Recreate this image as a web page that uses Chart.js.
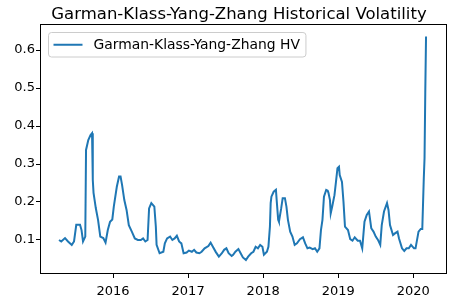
<!DOCTYPE html>
<html>
<head>
<meta charset="utf-8">
<script src="https://cdn.jsdelivr.net/npm/chart.js@4"></script>
<style>
  body { margin: 0; background: #fff; }
  #wrap { width: 456px; height: 299px; }
</style>
</head>
<body>
<div id="wrap"><canvas id="hvChart"></canvas></div>
<script>
// decimal years
const years = [
  2015.28, 2015.31, 2015.36, 2015.40, 2015.45, 2015.48, 2015.51, 2015.56, 2015.58, 2015.60,
  2015.63, 2015.64, 2015.67, 2015.70, 2015.72, 2015.73, 2015.74, 2015.77, 2015.80, 2015.83,
  2015.87, 2015.90, 2015.93, 2015.96, 2015.99, 2016.01, 2016.05, 2016.08, 2016.10, 2016.12,
  2016.15, 2016.18, 2016.21, 2016.25, 2016.29, 2016.33, 2016.37, 2016.40, 2016.43, 2016.46,
  2016.48, 2016.51, 2016.55, 2016.57, 2016.58, 2016.62, 2016.67, 2016.69, 2016.72, 2016.76,
  2016.79, 2016.82, 2016.85, 2016.88, 2016.91, 2016.94, 2016.98, 2017.01, 2017.05, 2017.08,
  2017.11, 2017.15, 2017.18, 2017.22, 2017.27, 2017.30, 2017.33, 2017.37, 2017.41, 2017.45,
  2017.48, 2017.51, 2017.54, 2017.58, 2017.60, 2017.63, 2017.67, 2017.70, 2017.73, 2017.77,
  2017.80, 2017.84, 2017.87, 2017.90, 2017.93, 2017.96, 2017.99, 2018.01, 2018.05, 2018.07,
  2018.09, 2018.10, 2018.11, 2018.14, 2018.17, 2018.18, 2018.20, 2018.21, 2018.24, 2018.26,
  2018.29, 2018.31, 2018.33, 2018.36, 2018.39, 2018.42, 2018.45, 2018.49, 2018.53, 2018.56,
  2018.59, 2018.62, 2018.66, 2018.69, 2018.72, 2018.75, 2018.77, 2018.79, 2018.81, 2018.84,
  2018.86, 2018.87, 2018.89, 2018.90, 2018.92, 2018.95, 2018.97, 2018.99, 2019.01, 2019.02,
  2019.05, 2019.07, 2019.09, 2019.13, 2019.16, 2019.19, 2019.22, 2019.26, 2019.29, 2019.32,
  2019.35, 2019.38, 2019.41, 2019.44, 2019.47, 2019.50, 2019.53, 2019.56, 2019.58, 2019.61,
  2019.65, 2019.67, 2019.69, 2019.73, 2019.76, 2019.79, 2019.81, 2019.85, 2019.88, 2019.91,
  2019.94, 2019.97, 2020.01, 2020.03, 2020.07, 2020.10, 2020.12, 2020.14, 2020.15, 2020.16,
  2020.17
];
const hv = [
  0.100, 0.096, 0.105, 0.096, 0.087, 0.096, 0.140, 0.140, 0.126, 0.096,
  0.109, 0.337, 0.363, 0.376, 0.381, 0.258, 0.224, 0.184, 0.153, 0.109,
  0.105, 0.093, 0.126, 0.148, 0.154, 0.188, 0.240, 0.267, 0.267, 0.245,
  0.205, 0.179, 0.139, 0.122, 0.104, 0.100, 0.100, 0.104, 0.096, 0.100,
  0.183, 0.197, 0.188, 0.135, 0.087, 0.065, 0.069, 0.091, 0.104, 0.109,
  0.100, 0.104, 0.111, 0.096, 0.091, 0.065, 0.067, 0.072, 0.069, 0.074,
  0.067, 0.065, 0.069, 0.078, 0.084, 0.093, 0.082, 0.068, 0.056, 0.065,
  0.074, 0.078, 0.065, 0.058, 0.061, 0.069, 0.076, 0.065, 0.054, 0.047,
  0.056, 0.065, 0.069, 0.082, 0.078, 0.087, 0.082, 0.061, 0.069, 0.082,
  0.135, 0.197, 0.214, 0.227, 0.232, 0.205, 0.153, 0.148, 0.183, 0.210,
  0.210, 0.188, 0.153, 0.122, 0.109, 0.087, 0.091, 0.102, 0.107, 0.091,
  0.078, 0.080, 0.076, 0.078, 0.069, 0.078, 0.126, 0.153, 0.214, 0.232,
  0.230, 0.224, 0.205, 0.170, 0.188, 0.218, 0.253, 0.289, 0.293, 0.271,
  0.253, 0.201, 0.135, 0.126, 0.102, 0.098, 0.107, 0.098, 0.098, 0.078,
  0.148, 0.166, 0.175, 0.131, 0.122, 0.109, 0.100, 0.087, 0.139, 0.175,
  0.197, 0.179, 0.139, 0.113, 0.118, 0.122, 0.104, 0.078, 0.071, 0.078,
  0.078, 0.087, 0.078, 0.078, 0.122, 0.129, 0.129, 0.262, 0.315, 0.490,
  0.636
];
const xTicks = [2016, 2017, 2018, 2019, 2020];
const yTicks = [0.1, 0.2, 0.3, 0.4, 0.5, 0.6];
const chartTitle = 'Garman-Klass-Yang-Zhang Historical Volatility';
const seriesLabel = 'Garman-Klass-Yang-Zhang HV';

const font = 'DejaVu Sans';
const blue = '#1f77b4';

// title, frame and legend drawn the way matplotlib places them
const mplDecor = {
  id: 'mplDecor',
  afterDraw(chart) {
    const ctx = chart.ctx;
    const a = chart.chartArea;
    ctx.save();

    ctx.strokeStyle = '#000';
    ctx.lineWidth = 1;
    ctx.strokeRect(a.left - 0.5, a.top - 0.5, a.right - a.left + 1, a.bottom - a.top + 1);

    ctx.fillStyle = '#000';
    ctx.font = '16.5px "' + font + '"';
    ctx.textAlign = 'center';
    ctx.textBaseline = 'alphabetic';
    ctx.fillText(chartTitle, 239, 18.5);

    ctx.font = '13.9px "' + font + '"';
    const tw = ctx.measureText(seriesLabel).width;
    const lx = a.left + 7.5, ly = a.top + 7.5, lw = 45 + tw + 6, lh = 24.5;
    ctx.beginPath();
    ctx.roundRect(lx, ly, lw, lh, 3);
    ctx.fillStyle = 'rgba(255,255,255,0.8)';
    ctx.fill();
    ctx.strokeStyle = '#cccccc';
    ctx.stroke();

    ctx.beginPath();
    ctx.moveTo(lx + 5, ly + lh / 2);
    ctx.lineTo(lx + 34, ly + lh / 2);
    ctx.strokeStyle = blue;
    ctx.lineWidth = 2;
    ctx.stroke();

    ctx.fillStyle = '#000';
    ctx.textAlign = 'left';
    ctx.textBaseline = 'middle';
    ctx.fillText(seriesLabel, lx + 45, ly + lh / 2 + 0.5);
    ctx.restore();
  }
};

new Chart(document.getElementById('hvChart'), {
  type: 'line',
  data: {
    datasets: [{
      label: seriesLabel,
      data: years.map((y, i) => ({ x: y, y: hv[i] })),
      borderColor: blue,
      borderWidth: 2,
      pointRadius: 0,
      tension: 0,
      fill: false
    }]
  },
  options: {
    responsive: true,
    maintainAspectRatio: false,
    animation: false,
    devicePixelRatio: 1,
    layout: { padding: { top: 25, right: 10, left: 0, bottom: 0 } },
    scales: {
      x: {
        type: 'linear',
        min: 2015.04,
        max: 2020.436,
        afterBuildTicks: s => { s.ticks = xTicks.map(v => ({ value: v })); },
        afterFit: s => { s.height = 26; },
        grid: { display: true, drawOnChartArea: false, drawTicks: true, tickLength: 5, color: '#000' },
        border: { display: false },
        ticks: {
          color: '#000',
          padding: 6,
          maxRotation: 0,
          font: { family: font, size: 13 },
          callback: v => String(v)
        }
      },
      y: {
        min: 0.013,
        max: 0.666,
        afterBuildTicks: s => { s.ticks = yTicks.map(v => ({ value: v })); },
        afterFit: s => { s.width = 41; },
        grid: { display: true, drawOnChartArea: false, drawTicks: true, tickLength: 5, color: '#000' },
        border: { display: false },
        ticks: {
          color: '#000',
          padding: 1,
          font: { family: font, size: 13 },
          callback: v => v.toFixed(1)
        }
      }
    },
    plugins: {
      legend: { display: false },
      title: { display: false },
      tooltip: { enabled: false }
    }
  },
  plugins: [mplDecor]
});
</script>
</body>
</html>
